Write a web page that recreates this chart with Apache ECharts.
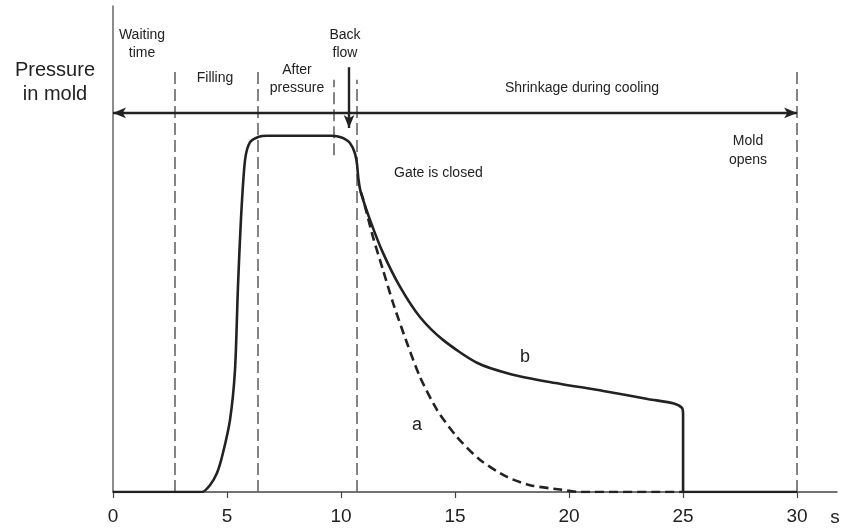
<!DOCTYPE html>
<html>
<head>
<meta charset="utf-8">
<script src="https://cdn.jsdelivr.net/npm/echarts@6/dist/echarts.min.js"></script>
<style>
  html, body { margin: 0; padding: 0; background: #fff; }
</style>
</head>
<body>
<div id="pressureChart" style="width: 842px;height:530px;"></div>
<script>
    // curve b: full cycle (solid)
    const timeB = [0, 3.9, 4.25, 4.56, 4.8, 5.13, 5.35, 5.48, 5.61, 5.79, 6.01, 6.4, 6.75, 9.6, 9.82, 10.1, 10.39, 10.6, 10.7, 10.76, 10.86,
        11.27, 11.84, 12.59, 13.46, 14.47, 15.96, 17.41, 19.2, 21.5, 23.5, 24.6, 24.95, 25, 25, 30];
    const pressB = [0, 0, 1.4, 3.9, 7.6, 14.8, 25.1, 42.2, 56.0, 68.3, 72.0, 73.1, 73.3, 73.3, 73.2, 72.8, 71.8, 69.8, 67.5, 64.5, 61.8,
        56.0, 49.2, 42.2, 36.0, 31.3, 26.6, 24.3, 22.6, 20.8, 19.1, 18.2, 17.3, 16.0, 0, 0];
    // curve a: branch after gate closes (dashed)
    const timeA = [10.86, 10.96, 11.4, 11.84, 12.28, 12.89, 13.46, 14.21, 15.09, 16.1, 17.28, 18.29, 19.61, 20.5, 25];
    const pressA = [61.8, 60.4, 52.5, 45.7, 38.9, 30.7, 23.7, 16.9, 11.3, 6.6, 3.1, 1.4, 0.5, 0, 0];

    // phase boundaries (dashed verticals)
    const phaseX = [2.72, 6.35, 9.68, 10.7, 30];
    const phaseFrom = [0, 0, 69.3, 0, 0];
    const phaseTo = [86.8, 86.8, 84.8, 84.8, 87.4];

    // cooling arrow and back flow arrow
    const coolArrow = {y: 78, from: 0, to: 30};
    const backFlow = {x: 10.35, from: 87.4, to: 74.9};

    const xTicks = [0, 5, 10, 15, 20, 25, 30];

    const font = '"Liberation Sans", Arial, sans-serif';
    const ink = '#222';

    let chart = echarts.init(document.getElementById('pressureChart'));

    let phaseLines = phaseX.map((x, i) => [{coord: [x, phaseFrom[i]]}, {coord: [x, phaseTo[i]]}]);

    function txt(text, x, y, size, lh, align) {
        return {
            type: 'text',
            x: x, y: y,
            style: {
                text: text,
                fill: ink,
                font: size + 'px ' + font,
                lineHeight: lh,
                align: align || 'center',
                verticalAlign: 'top'
            }
        };
    }

    let option = {
        animation: false,
        grid: {left: 113, right: 5, top: 6, bottom: 38},
        xAxis: {
            type: 'value',
            min: 0,
            max: 31.75,
            interval: 5,
            splitLine: {show: false},
            axisLine: {lineStyle: {color: '#444', width: 1.5}},
            axisTick: {length: 6, lineStyle: {color: '#444', width: 1.2}, customValues: xTicks},
            axisLabel: {
                customValues: xTicks,
                color: ink, fontSize: 19, fontFamily: font, margin: 15
            }
        },
        yAxis: {
            type: 'value',
            min: 0,
            max: 100,
            splitLine: {show: false},
            axisTick: {show: false},
            axisLabel: {show: false},
            axisLine: {show: true, lineStyle: {color: '#666', width: 1.5}}
        },
        series: [{
            name: 'b',
            type: 'line',
            data: timeB.map((t, i) => [t, pressB[i]]),
            showSymbol: false,
            smooth: 0.25,
            lineStyle: {color: ink, width: 2.6},
            z: 5
        }, {
            name: 'a',
            type: 'line',
            data: timeA.map((t, i) => [t, pressA[i]]),
            showSymbol: false,
            smooth: 0.25,
            lineStyle: {color: ink, width: 2.6, type: [9, 5]},
            z: 4
        }, {
            name: 'phases',
            type: 'line',
            data: [],
            silent: true,
            markLine: {
                silent: true,
                symbol: 'none',
                label: {show: false},
                lineStyle: {color: '#666', width: 1.6, type: [12, 5]},
                data: phaseLines
            }
        }, {
            name: 'arrows',
            type: 'line',
            data: [],
            silent: true,
            markLine: {
                silent: true,
                label: {show: false},
                lineStyle: {color: ink, width: 2.4, type: 'solid'},
                data: [
                    [{coord: [coolArrow.from, coolArrow.y], symbol: 'arrow', symbolSize: [8, 13]},
                     {coord: [coolArrow.to, coolArrow.y], symbol: 'arrow', symbolSize: [8, 13]}],
                    [{coord: [backFlow.x, backFlow.from], symbol: 'none'},
                     {coord: [backFlow.x, backFlow.to], symbol: 'arrow', symbolSize: [8, 13]}]
                ]
            }
        }],
        graphic: [
            txt('Pressure\nin mold', 55, 58, 20, 24),
            txt('Waiting\ntime', 142, 26, 14, 18),
            txt('Filling', 215, 69, 14, 18),
            txt('After\npressure', 297, 61, 14, 18),
            txt('Back\nflow', 345, 26, 14, 18),
            txt('Shrinkage during cooling', 582, 79, 14, 18),
            txt('Mold\nopens', 748, 132, 14, 19),
            txt('Gate is closed', 394, 164, 14, 18, 'left'),
            txt('b', 525, 347, 18, 20),
            txt('a', 417, 415, 18, 20),
            txt('s', 835, 507, 19, 22)
        ]
    };
    chart.setOption(option);
    window.addEventListener('resize', function () {
        chart.resize();
    });
</script>
</body>
</html>
